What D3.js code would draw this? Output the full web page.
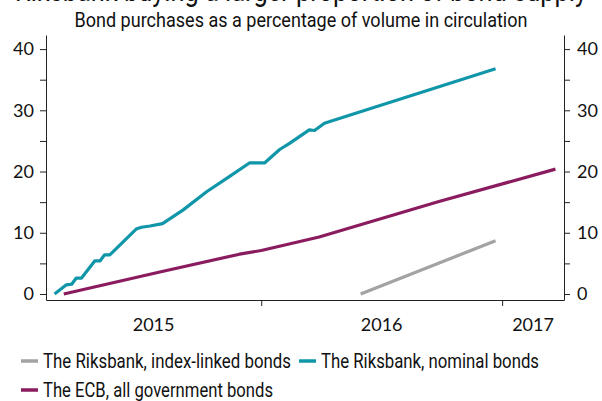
<!DOCTYPE html>
<html>
<head>
<meta charset="utf-8">
<script src="https://cdn.jsdelivr.net/npm/d3@7"></script>
<style>
  body { margin: 0; background: #fff; }
  svg { display: block; }
  text { font-family: Roboto, "DejaVu Sans Condensed", sans-serif; fill: #111; }
  .tick text { font-family: Lato, "Liberation Sans", sans-serif; font-size: 18px; }
</style>
</head>
<body>
<script>
// data
const nominalDates = ["2015-02-21","2015-03-11","2015-03-19","2015-03-26","2015-04-03","2015-04-23",
  "2015-05-01","2015-05-08","2015-05-16","2015-06-25","2015-07-03","2015-07-16","2015-08-04",
  "2015-09-04","2015-10-10","2015-11-14","2015-12-14","2016-01-06","2016-01-29","2016-02-13",
  "2016-03-14","2016-03-22","2016-04-06","2016-05-14","2016-12-22"];
const nominalValues = [0, 1.5, 1.6, 2.6, 2.6, 5.4, 5.4, 6.4, 6.4, 10.6, 10.9, 11.1, 11.5,
  13.7, 16.7, 19.2, 21.4, 21.4, 23.6, 24.6, 26.8, 26.7, 27.9, 29.2, 36.8];

const ecbDates = ["2015-03-07","2015-07-31","2015-11-29","2016-01-01","2016-03-29","2016-09-27","2017-03-23"];
const ecbValues = [0, 3.6, 6.5, 7.1, 9.3, 15.1, 20.4];

const indexDates = ["2016-05-31","2016-12-22"];
const indexValues = [0, 8.7];

const yTicks = [0, 5, 10, 15, 20, 25, 30, 35, 40];
const yearLabels = ["2015", "2016", "2017"];

const seriesNames = ["The Riksbank, index-linked bonds", "The Riksbank, nominal bonds", "The ECB, all government bonds"];
const seriesColors = ["#a3a3a3", "#1096a9", "#8a1b5e"];

const w = 602, h = 401;
const margin = {left: 46, right: 564, top: 35, bottom: 300};

const parse = d3.timeParse("%Y-%m-%d");
const toPoints = (ds, vs) => ds.map((d, i) => ({date: parse(d), value: vs[i]}));

const series = [
  toPoints(indexDates, indexValues),
  toPoints(nominalDates, nominalValues),
  toPoints(ecbDates, ecbValues)
];

const xScale = d3.scaleTime()
    .domain([new Date(2015, 1, 8), new Date(2017, 3, 5)])
    .range([margin.left, margin.right]);

const yScale = d3.scaleLinear()
    .domain([-0.98, 42.3])
    .range([margin.bottom, margin.top]);

const svg = d3.select("body")
  .append("svg")
    .attr("width", w)
    .attr("height", h);

// title, mostly cut off at the top like in the source
svg.append("text")
    .attr("x", w / 2)
    .attr("y", 1)
    .attr("text-anchor", "middle")
    .attr("textLength", 572)
    .attr("lengthAdjust", "spacingAndGlyphs")
    .style("font-size", "30px")
    .text("Riksbank buying a larger proportion of bond supply");

svg.append("text")
    .attr("x", w / 2)
    .attr("y", 27)
    .attr("text-anchor", "middle")
    .attr("textLength", 453)
    .attr("lengthAdjust", "spacingAndGlyphs")
    .style("font-size", "20px")
    .text("Bond purchases as a percentage of volume in circulation");

// axes
const yLeft = d3.axisLeft(yScale)
    .tickValues(yTicks)
    .tickSize(6)
    .tickSizeOuter(0)
    .tickPadding(6)
    .tickFormat(d => d % 10 === 0 ? d : "");

const yRight = d3.axisRight(yScale)
    .tickValues(yTicks)
    .tickSize(6)
    .tickSizeOuter(0)
    .tickPadding(7)
    .tickFormat(d => d % 10 === 0 ? d : "");

const xAxis = d3.axisBottom(xScale)
    .tickValues([new Date(2016, 0, 1), new Date(2017, 0, 1)])
    .tickSize(6)
    .tickSizeOuter(0)
    .tickFormat("");

svg.append("g")
    .attr("transform", `translate(${margin.left},0)`)
    .call(yLeft);

svg.append("g")
    .attr("transform", `translate(${margin.right},0)`)
    .call(yRight);

svg.append("g")
    .attr("transform", `translate(0,${margin.bottom})`)
    .call(xAxis);

svg.selectAll(".domain, .tick line").attr("stroke", "#222");

// year labels centred in the visible part of each year
const dom = xScale.domain();
svg.append("g").selectAll("text")
  .data(yearLabels)
  .join("text")
    .attr("x", d => {
      const a = new Date(Math.max(+dom[0], +new Date(+d, 0, 1)));
      const b = new Date(Math.min(+dom[1], +new Date(+d + 1, 0, 1)));
      return (xScale(a) + xScale(b)) / 2;
    })
    .attr("y", 331)
    .attr("text-anchor", "middle")
    .style("font-family", "Lato, 'Liberation Sans', sans-serif")
    .style("font-size", "18px")
    .text(d => d);

// lines
const line = d3.line()
    .x(d => xScale(d.date))
    .y(d => yScale(d.value));

svg.append("g").selectAll("path")
  .data(series)
  .join("path")
    .attr("d", line)
    .attr("fill", "none")
    .attr("stroke", (d, i) => seriesColors[i])
    .attr("stroke-width", 3.2)
    .attr("stroke-linejoin", "round");

// legend
const legendPos = [[21, 368], [299, 368], [21, 397]];
const legendLen = [248, 218, 230];
const legend = svg.append("g").selectAll("g")
  .data(seriesNames)
  .join("g")
    .attr("transform", (d, i) => `translate(${legendPos[i][0]},${legendPos[i][1]})`);

legend.append("line")
    .attr("x1", 0).attr("x2", 17)
    .attr("y1", -7).attr("y2", -7)
    .attr("stroke", (d, i) => seriesColors[i])
    .attr("stroke-width", 3.5);

legend.append("text")
    .attr("x", 22)
    .attr("textLength", (d, i) => legendLen[i])
    .attr("lengthAdjust", "spacingAndGlyphs")
    .style("font-size", "20px")
    .text(d => d);
</script>
</body>
</html>
